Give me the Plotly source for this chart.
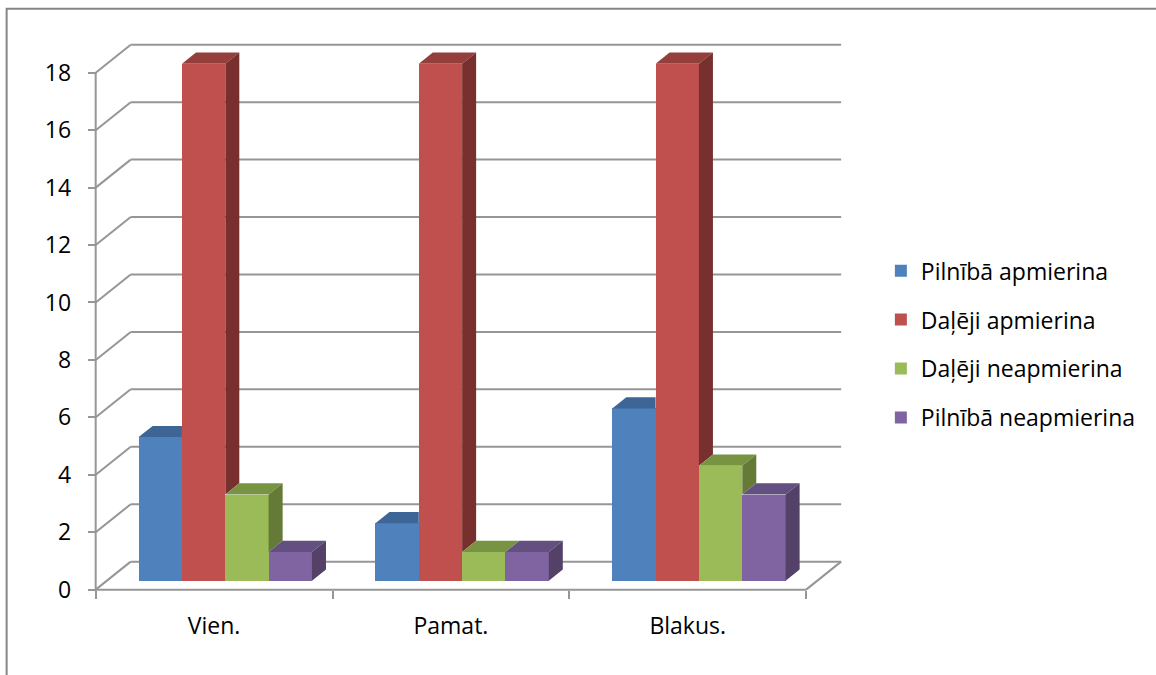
import plotly.graph_objects as go

# ---------------- data ----------------
categories = ["Vien.", "Pamat.", "Blakus."]
series_names = ["Pilnībā apmierina", "Daļēji apmierina", "Daļēji neapmierina", "Pilnībā neapmierina"]
pilniba_apmierina = [5, 2, 6]
daleji_apmierina = [18, 18, 18]
daleji_neapmierina = [3, 1, 4]
pilniba_neapmierina = [1, 1, 3]
y_tick_values = [0, 2, 4, 6, 8, 10, 12, 14, 16, 18]

series_values = [pilniba_apmierina, daleji_apmierina, daleji_neapmierina, pilniba_neapmierina]

# ---------------- style ----------------
front_colors = ["#4F81BD", "#C0504D", "#9BBB59", "#8064A2"]
top_colors = ["#3D6697", "#953F3C", "#789442", "#644F81"]
side_colors = ["#2F4F77", "#77302E", "#647A36", "#534168"]
GRID = "#969696"
FONT = "Open Sans"

# geometry (pixels of the frame)
SX = 236.67          # px per category
SY = 28.72           # px per value unit
ORIG_X, ORIG_Y = 96, 590
DX = 35 / SX         # depth offset in x data units
DY = 28 / SY         # depth offset in y data units
BAR_W = 0.183
GAP = (1 - 4 * BAR_W) / 2
Z0, Z1 = 0.32, 0.72  # bar depth fractions

def P(x, v, z):
    return x + z * DX, v + z * DY

fig = go.Figure()

ncat = len(categories)
ymax = max(y_tick_values)

# front faces (bars)
for j, (name, vals) in enumerate(zip(series_names, series_values)):
    xs = [g + GAP + (j + 0.5) * BAR_W + Z0 * DX for g in range(ncat)]
    fig.add_trace(go.Bar(
        x=xs, y=vals, base=[Z0 * DY] * ncat, width=BAR_W, name=name,
        marker=dict(color=front_colors[j], line=dict(width=0)),
        legendgroup=name, showlegend=True, hoverinfo="skip"))

# top and side faces
for j, vals in enumerate(series_values):
    tx, ty, sx, sy = [], [], [], []
    for g in range(ncat):
        v = vals[g]
        xl = g + GAP + j * BAR_W
        xr = xl + BAR_W
        nxt = series_values[j + 1][g] if j + 1 < len(series_values) else None
        A = P(xl, v, Z0); B = P(xr, v, Z0); C = P(xr, v, Z1); D = P(xl, v, Z1)
        if nxt is not None and nxt > v:
            poly = [A, B, (B[0], C[1]), D]
        else:
            poly = [A, B, C, D]
        for p in poly + [poly[0]]:
            tx.append(p[0]); ty.append(p[1])
        tx.append(None); ty.append(None)
        lo = 0 if nxt is None else nxt
        if v > lo:
            s = [P(xr, lo, Z0), P(xr, lo, Z1), P(xr, v, Z1), P(xr, v, Z0)]
            for p in s + [s[0]]:
                sx.append(p[0]); sy.append(p[1])
            sx.append(None); sy.append(None)
    fig.add_trace(go.Scatter(x=tx, y=ty, fill="toself", mode="lines",
                             line=dict(width=0, color=top_colors[j]),
                             fillcolor=top_colors[j], showlegend=False, hoverinfo="skip"))
    if sx:
        fig.add_trace(go.Scatter(x=sx, y=sy, fill="toself", mode="lines",
                                 line=dict(width=0, color=side_colors[j]),
                                 fillcolor=side_colors[j], showlegend=False, hoverinfo="skip"))

# walls / grid as shapes below traces
shapes = []
def line(x0, y0, x1, y1):
    shapes.append(dict(type="line", xref="x", yref="y", x0=x0, y0=y0, x1=x1, y1=y1,
                       line=dict(color=GRID, width=2), layer="below"))

for v in y_tick_values:
    line(0, v, DX, v + DY)
    line(DX, v + DY, ncat + DX, v + DY)
line(0, 0, ncat, 0)
line(ncat, 0, ncat + DX, DY)
line(0, 0, 0, ymax)

# ranges / margins
XMIN, XMAX = -0.1, ncat + DX + 0.05
YMIN, YMAX = -0.5, ymax + DY + 0.2
W = (XMAX - XMIN) * SX
H = (YMAX - YMIN) * SY
ml = ORIG_X + XMIN * SX
mr = 1156 - ml - W
pb = ORIG_Y - YMIN * SY
mb = 675 - pb
mt = pb - H

# outer chart border (only top/left visible)
shapes.append(dict(type="rect", xref="paper", yref="paper",
                   x0=(7 - ml) / W, x1=(1200 - ml) / W,
                   y0=(pb - 720) / H, y1=(pb - 9) / H,
                   line=dict(color="#868686", width=2), fillcolor="rgba(0,0,0,0)", layer="below"))

fig.update_layout(
    width=1156, height=675,
    margin=dict(l=ml, r=mr, t=mt, b=mb, autoexpand=False),
    paper_bgcolor="white", plot_bgcolor="white",
    barmode="overlay", bargap=0,
    shapes=shapes,
    font=dict(family=FONT, size=23, color="black"),
    showlegend=True,
    legend=dict(xref="container", yref="container", x=0.762, y=0.49,
                xanchor="left", yanchor="middle", tracegroupgap=16,
                font=dict(family=FONT, size=23, color="black"),
                bgcolor="rgba(0,0,0,0)"),
    xaxis=dict(range=[XMIN, XMAX], anchor="free", position=(0 - YMIN) / (YMAX - YMIN),
               tickmode="array", tickvals=[i + 0.5 for i in range(ncat)], ticktext=categories,
               ticks="", showgrid=False, zeroline=False, showline=False,
               tickfont=dict(family=FONT, size=23, color="black"),
               ticklabelstandoff=20,
               minor=dict(tickmode="array", tickvals=list(range(ncat + 1)), ticks="outside",
                          ticklen=8, tickwidth=2, tickcolor=GRID, showgrid=False),
               fixedrange=True),
    yaxis=dict(range=[YMIN, YMAX], anchor="free", position=(0 - XMIN) / (XMAX - XMIN),
               tickmode="array", tickvals=y_tick_values,
               ticks="outside", ticklen=8, tickwidth=2, tickcolor=GRID,
               showgrid=False, zeroline=False, showline=False,
               tickfont=dict(family=FONT, size=23, color="black"),
               ticklabelstandoff=12, fixedrange=True),
)

fig.write_html("out.html")
